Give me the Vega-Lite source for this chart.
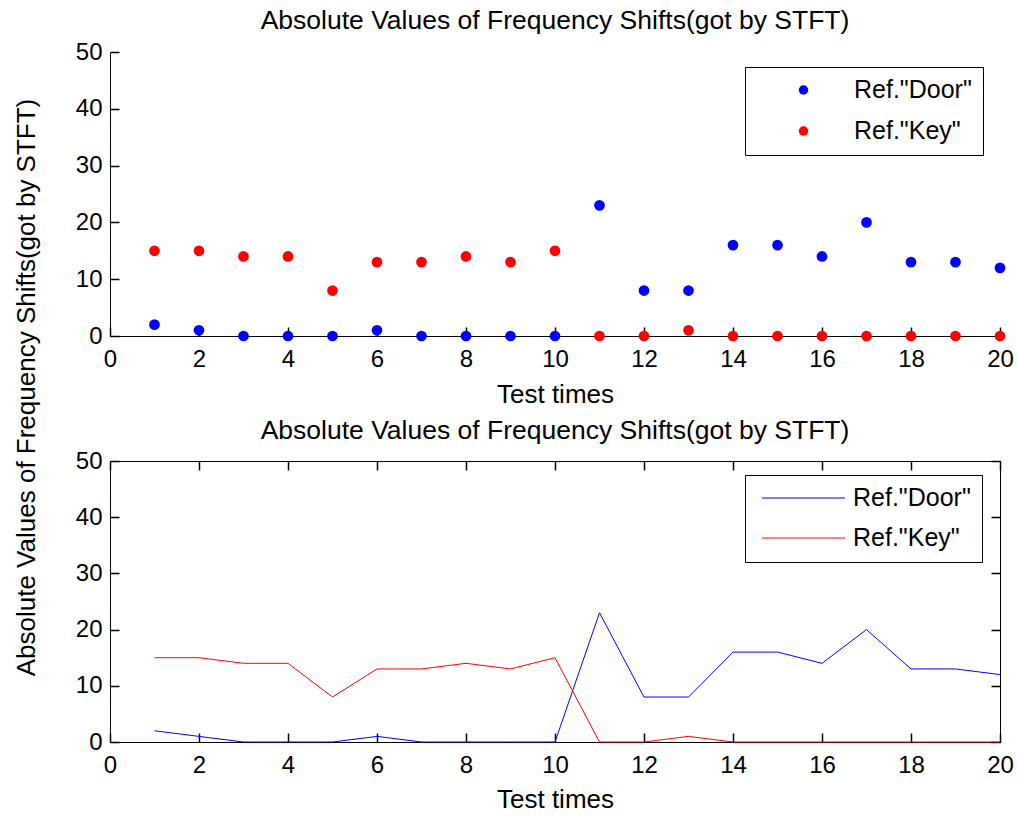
{
  "$schema": "https://vega.github.io/schema/vega-lite/v6.json",
  "background": "white",
  "padding": {"left": 13, "top": 8, "right": 0, "bottom": 0},
  "bounds": "flush",
  "spacing": 125,
  "data": {
    "values": [
      {"test": 1, "value": 2, "series": "Ref.\"Door\""},
      {"test": 2, "value": 1, "series": "Ref.\"Door\""},
      {"test": 3, "value": 0, "series": "Ref.\"Door\""},
      {"test": 4, "value": 0, "series": "Ref.\"Door\""},
      {"test": 5, "value": 0, "series": "Ref.\"Door\""},
      {"test": 6, "value": 1, "series": "Ref.\"Door\""},
      {"test": 7, "value": 0, "series": "Ref.\"Door\""},
      {"test": 8, "value": 0, "series": "Ref.\"Door\""},
      {"test": 9, "value": 0, "series": "Ref.\"Door\""},
      {"test": 10, "value": 0, "series": "Ref.\"Door\""},
      {"test": 11, "value": 23, "series": "Ref.\"Door\""},
      {"test": 12, "value": 8, "series": "Ref.\"Door\""},
      {"test": 13, "value": 8, "series": "Ref.\"Door\""},
      {"test": 14, "value": 16, "series": "Ref.\"Door\""},
      {"test": 15, "value": 16, "series": "Ref.\"Door\""},
      {"test": 16, "value": 14, "series": "Ref.\"Door\""},
      {"test": 17, "value": 20, "series": "Ref.\"Door\""},
      {"test": 18, "value": 13, "series": "Ref.\"Door\""},
      {"test": 19, "value": 13, "series": "Ref.\"Door\""},
      {"test": 20, "value": 12, "series": "Ref.\"Door\""},
      {"test": 1, "value": 15, "series": "Ref.\"Key\""},
      {"test": 2, "value": 15, "series": "Ref.\"Key\""},
      {"test": 3, "value": 14, "series": "Ref.\"Key\""},
      {"test": 4, "value": 14, "series": "Ref.\"Key\""},
      {"test": 5, "value": 8, "series": "Ref.\"Key\""},
      {"test": 6, "value": 13, "series": "Ref.\"Key\""},
      {"test": 7, "value": 13, "series": "Ref.\"Key\""},
      {"test": 8, "value": 14, "series": "Ref.\"Key\""},
      {"test": 9, "value": 13, "series": "Ref.\"Key\""},
      {"test": 10, "value": 15, "series": "Ref.\"Key\""},
      {"test": 11, "value": 0, "series": "Ref.\"Key\""},
      {"test": 12, "value": 0, "series": "Ref.\"Key\""},
      {"test": 13, "value": 1, "series": "Ref.\"Key\""},
      {"test": 14, "value": 0, "series": "Ref.\"Key\""},
      {"test": 15, "value": 0, "series": "Ref.\"Key\""},
      {"test": 16, "value": 0, "series": "Ref.\"Key\""},
      {"test": 17, "value": 0, "series": "Ref.\"Key\""},
      {"test": 18, "value": 0, "series": "Ref.\"Key\""},
      {"test": 19, "value": 0, "series": "Ref.\"Key\""},
      {"test": 20, "value": 0, "series": "Ref.\"Key\""}
    ]
  },
  "resolve": {
    "scale": {"x": "independent", "y": "independent", "color": "independent"},
    "legend": {"color": "independent"}
  },
  "vconcat": [
    {
      "width": 890,
      "height": 284,
      "title": {"text": "Absolute Values of Frequency Shifts(got by STFT)", "baseline": "alphabetic", "offset": -15.5},
      "resolve": {"axis": {"x": "independent", "y": "independent"}},
      "layer": [
        {
          "mark": {"type": "point", "shape": "circle", "filled": true, "size": 115, "opacity": 1},
          "encoding": {
            "x": {
              "field": "test", "type": "quantitative",
              "scale": {"domain": [0, 20], "nice": false, "zero": false},
              "axis": {
                "values": [0, 2, 4, 6, 8, 10, 12, 14, 16, 18, 20], "ticks": false,
                "title": "Test times", "titleBaseline": "alphabetic", "titleY": 66
              }
            },
            "y": {
              "field": "value", "type": "quantitative",
              "scale": {"domain": [0, 50], "nice": false},
              "axis": {
                "values": [0, 10, 20, 30, 40, 50], "ticks": false,
                "title": "Absolute Values of Frequency Shifts(got by STFT)",
                "titleBaseline": "alphabetic", "titleX": -76, "titleY": 335, "titleAngle": -90, "titleAlign": "center"
              }
            },
            "color": {
              "field": "series", "type": "nominal",
              "scale": {"domain": ["Ref.\"Door\"", "Ref.\"Key\""], "range": ["#0000ff", "#ff0000"]},
              "legend": {
                "title": null, "orient": "none", "legendX": 635, "legendY": 15,
                "strokeColor": "black", "fillColor": "white", "padding": 11,
                "symbolType": "circle", "symbolSize": 90, "symbolStrokeWidth": 0,
                "symbolOffset": 35, "labelOffset": 38, "clipHeight": 24, "rowPadding": 16,
                "labelFontSize": 25, "labelColor": "black", "labelFont": "Liberation Sans"
              }
            }
          }
        },
        {
          "mark": {"type": "point", "size": 0, "opacity": 0},
          "encoding": {
            "x": {
              "field": "test", "type": "quantitative",
              "axis": {"orient": "bottom", "offset": -9, "tickSize": 9, "tickWidth": 1.5, "ticks": true, "tickColor": "black", "domain": false, "labels": false, "title": null, "values": [0, 2, 4, 6, 8, 10, 12, 14, 16, 18, 20]}
            },
            "y": {
              "field": "value", "type": "quantitative",
              "axis": {"orient": "left", "offset": -9, "tickSize": 9, "tickWidth": 1.5, "ticks": true, "tickColor": "black", "domain": false, "labels": false, "title": null, "values": [0, 10, 20, 30, 40, 50]}
            }
          }
        }
      ]
    },
    {
      "width": 890,
      "height": 281,
      "view": {"stroke": "black", "strokeWidth": 1},
      "title": {"text": "Absolute Values of Frequency Shifts(got by STFT)", "baseline": "alphabetic", "offset": -16},
      "resolve": {"axis": {"x": "independent", "y": "independent"}},
      "layer": [
        {
          "mark": {"type": "line", "strokeWidth": 1},
          "encoding": {
            "x": {
              "field": "test", "type": "quantitative",
              "scale": {"domain": [0, 20], "nice": false, "zero": false},
              "axis": {
                "values": [0, 2, 4, 6, 8, 10, 12, 14, 16, 18, 20], "ticks": false,
                "title": "Test times", "titleBaseline": "alphabetic", "titleY": 65
              }
            },
            "y": {
              "field": "value", "type": "quantitative",
              "scale": {"domain": [0, 50], "nice": false},
              "axis": {"values": [0, 10, 20, 30, 40, 50], "ticks": false, "title": null}
            },
            "color": {
              "field": "series", "type": "nominal",
              "scale": {"domain": ["Ref.\"Door\"", "Ref.\"Key\""], "range": ["#0000ff", "#ff0000"]},
              "legend": {
                "title": null, "orient": "none", "legendX": 635, "legendY": 14,
                "strokeColor": "black", "fillColor": "white", "padding": 11,
                "symbolType": "stroke", "symbolSize": 6889, "symbolStrokeWidth": 1,
                "symbolOffset": 5.5, "labelOffset": 7.5, "clipHeight": 24, "rowPadding": 15,
                "labelFontSize": 25, "labelColor": "black", "labelFont": "Liberation Sans"
              }
            }
          }
        },
        {
          "mark": {"type": "point", "size": 0, "opacity": 0},
          "encoding": {
            "x": {
              "field": "test", "type": "quantitative",
              "axis": {"orient": "bottom", "offset": -9, "tickSize": 9, "tickWidth": 1.5, "ticks": true, "tickColor": "black", "domain": false, "labels": false, "title": null, "values": [0, 2, 4, 6, 8, 10, 12, 14, 16, 18, 20]}
            },
            "y": {
              "field": "value", "type": "quantitative",
              "axis": {"orient": "left", "offset": -9, "tickSize": 9, "tickWidth": 1.5, "ticks": true, "tickColor": "black", "domain": false, "labels": false, "title": null, "values": [0, 10, 20, 30, 40, 50]}
            }
          }
        },
        {
          "mark": {"type": "point", "size": 0, "opacity": 0},
          "encoding": {
            "x": {
              "field": "test", "type": "quantitative",
              "axis": {"orient": "top", "offset": -9, "tickSize": 9, "tickWidth": 1.5, "ticks": true, "tickColor": "black", "domain": false, "labels": false, "title": null, "values": [0, 2, 4, 6, 8, 10, 12, 14, 16, 18, 20]}
            },
            "y": {
              "field": "value", "type": "quantitative",
              "axis": {"orient": "right", "offset": -9, "tickSize": 9, "tickWidth": 1.5, "ticks": true, "tickColor": "black", "domain": false, "labels": false, "title": null, "values": [0, 10, 20, 30, 40, 50]}
            }
          }
        }
      ]
    }
  ],
  "config": {
    "font": "Liberation Sans",
    "view": {"stroke": null},
    "title": {"fontSize": 26.5, "fontWeight": "normal", "color": "black", "font": "Liberation Sans"},
    "axis": {
      "grid": false,
      "domainColor": "black", "domainWidth": 1,
      "tickColor": "black", "tickWidth": 1,
      "labelColor": "black", "labelFontSize": 24, "labelFlush": false, "labelOverlap": false,
      "titleColor": "black", "titleFontSize": 26, "titleFontWeight": "normal"
    },
    "axisX": {"labelPadding": 11},
    "axisY": {"labelPadding": 8}
  }
}
